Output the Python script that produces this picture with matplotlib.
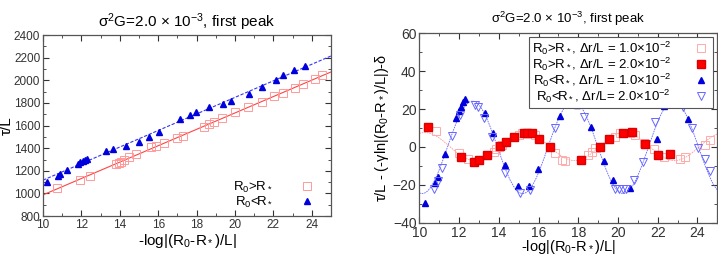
import matplotlib.pyplot as plt
import numpy as np
from matplotlib.ticker import MultipleLocator

plt.rcParams['font.family'] = ['Liberation Sans', 'DejaVu Sans']
plt.rcParams['mathtext.fontset'] = 'custom'
plt.rcParams['mathtext.rm'] = 'Liberation Sans'
plt.rcParams['mathtext.it'] = 'Liberation Sans:italic'
plt.rcParams['mathtext.bf'] = 'Liberation Sans:bold'

# left panel: tau/L vs -log|(R0-R*)/L|
gt_x = [10.75, 11.91, 12.43, 13.80, 13.94, 14.06, 14.20, 14.46, 14.86, 15.60, 15.86, 16.31,
        16.97, 17.28, 18.39, 18.67, 18.91, 19.31, 20.02, 20.70, 21.41, 22.05, 22.48, 23.13,
        23.56, 24.17, 24.55]
gt_y = [1045, 1118, 1156, 1257, 1266, 1280, 1295, 1319, 1345, 1410, 1422, 1442,
        1489, 1507, 1590, 1613, 1628, 1669, 1722, 1766, 1811, 1858, 1887, 1934,
        1967, 2011, 2049]
lt_x = [10.21, 10.76, 10.90, 11.25, 11.80, 11.94, 12.06, 12.17, 12.29, 13.29, 13.64, 14.32,
        14.98, 15.53, 16.05, 17.14, 17.63, 17.97, 18.67, 19.36, 19.80, 20.75, 21.43, 22.12,
        22.52, 23.07, 23.65]
lt_y = [1103, 1156, 1168, 1207, 1263, 1277, 1289, 1298, 1307, 1375, 1392, 1422,
        1457, 1501, 1545, 1654, 1693, 1719, 1760, 1793, 1819, 1875, 1940, 2002,
        2043, 2093, 2123]

# right panel: residuals
gt1_x = [10.84, 11.98, 12.45, 13.74, 13.88, 13.99, 14.15, 15.00, 15.17, 15.81, 16.84, 17.18,
         17.31, 18.49, 18.69, 18.86, 19.86, 20.11, 20.61, 20.87, 21.29, 21.79, 22.30, 23.14,
         23.39, 24.39, 24.65]
gt1_y = [8.6, -3.0, -6.5, -2.5, -1.1, -0.2, 1.0, 6.3, 7.5, 6.3, -3.3, -6.8,
         -7.4, -4.2, -2.5, -0.7, 5.4, 7.2, 7.2, 6.3, 2.0, -1.2, -5.1, -6.3,
         -5.1, 1.1, 3.7]
gt2_x = [10.42, 12.10, 12.73, 13.02, 13.41, 14.08, 14.36, 14.75, 15.25, 15.42, 15.67, 16.00,
         16.59, 18.14, 19.08, 19.53, 20.25, 20.71, 21.37, 22.04, 22.63]
gt2_y = [10.7, -5.1, -7.7, -6.8, -4.2, 0.5, 2.8, 5.4, 7.2, 7.2, 7.2, 4.1,
         -0.2, -6.8, -0.2, 4.1, 7.5, 7.9, 1.4, -4.4, -3.7]
lt1_x = [10.30, 10.81, 10.94, 11.31, 11.85, 11.98, 12.10, 12.20, 12.31, 13.29, 13.69, 14.29,
         14.95, 15.50, 15.97, 17.06, 17.55, 17.94, 18.62, 19.28, 19.73, 20.62, 21.96, 22.30,
         22.94, 23.51]
lt1_y = [-29.3, -19.1, -15.9, -3.7, 15.3, 18.8, 21.2, 23.8, 25.1, 17.7, 7.2, -9.6,
         -20.4, -20.4, -11.8, 16.3, 23.0, 22.3, 10.7, -7.5, -17.4, -21.8, 4.1, 21.7,
         23.7, 14.9]
lt2_x = [10.75, 10.92, 11.14, 11.64, 12.06, 12.78, 12.95, 13.24, 13.66, 14.33, 15.05, 15.59,
         16.84, 18.27, 19.86, 20.03, 20.23, 20.42, 20.79, 21.26, 21.84, 22.60, 23.25, 23.75,
         24.02, 24.36, 24.62]
lt2_y = [-21.9, -17.7, -11.2, 5.8, 16.7, 22.3, 20.9, 15.1, 5.4, -13.8, -24.4, -22.6,
         9.8, 16.0, -22.1, -22.3, -22.3, -22.3, -17.4, -7.7, 13.0, 25.6, 20.8, 9.8,
         -0.6, -6.5, -12.8]


def sine_fit(x, y, periods):
    best = None
    for p in periods:
        k = 2 * np.pi / p
        A = np.column_stack([np.cos(k * x), np.sin(k * x), np.ones_like(x)])
        coef = np.linalg.lstsq(A, y, rcond=None)[0]
        r = np.sum((A @ coef - y) ** 2)
        if best is None or r < best[0]:
            best = (r, k, coef)
    _, k, c = best
    return lambda t: c[0] * np.cos(k * t) + c[1] * np.sin(k * t) + c[2]


def style(ax):
    ax.tick_params(which='both', direction='in', top=True, right=True, colors='#333333')
    ax.tick_params(which='major', length=4)
    ax.tick_params(which='minor', length=2)
    for s in ax.spines.values():
        s.set_color('#555555')
        s.set_linewidth(0.9)


fig = plt.figure(figsize=(7.18, 2.56), dpi=100)

# ---- left
ax = fig.add_axes([0.060, 0.156, 0.401, 0.707])
xs = np.linspace(10, 25, 50)
p1 = np.polyfit(gt_x, gt_y, 1)
p2 = np.polyfit(lt_x, lt_y, 1)
ax.plot(xs, np.polyval(p1, xs), color='#ff4444', lw=0.8)
ax.plot(xs, np.polyval(p2, xs), color='#3333ff', lw=0.8, ls=(0, (3, 1.5)))
ax.plot(gt_x, gt_y, 's', ms=6, mfc='none', mec='#ff9999', mew=0.7, label=r'R$_0$>R$_*$')
ax.plot(lt_x, lt_y, '^', ms=5, color='#0000dd', label=r'R$_0$<R$_*$')
ax.set_xlim(10, 25)
ax.set_ylim(800, 2400)
ax.xaxis.set_major_locator(MultipleLocator(2))
ax.xaxis.set_minor_locator(MultipleLocator(1))
ax.yaxis.set_major_locator(MultipleLocator(200))
ax.yaxis.set_minor_locator(MultipleLocator(100))
ax.tick_params(labelsize=8.5, pad=2)
style(ax)
ax.set_xlabel(r'-log|(R$_0$-R$_*$)/L|', fontsize=11, labelpad=1)
ax.set_ylabel('τ/L', fontsize=11, labelpad=0)
ax.set_title('σ$^2$G=2.0 × 10$^{-3}$, first peak', fontsize=11, pad=6)
h, l = ax.get_legend_handles_labels()
ax.legend(h, l, loc='lower right', frameon=False, markerfirst=False, fontsize=9.5,
          handlelength=1.5, handletextpad=1.8, labelspacing=0.0, borderaxespad=0.05,
          bbox_to_anchor=(0.97, 0.0))

# ---- right
ax2 = fig.add_axes([0.584, 0.129, 0.415, 0.742])
xs = np.linspace(10, 25, 400)
per = np.linspace(4.5, 6.0, 151)
fr = sine_fit(np.array(gt1_x + gt2_x), np.array(gt1_y + gt2_y), per)
fb = sine_fit(np.array(lt1_x + lt2_x), np.array(lt1_y + lt2_y), per)
ax2.plot(xs, fr(xs), color='#ff9999', lw=0.6, ls=(0, (2, 1)))
ax2.plot(xs, fb(xs), color='#6666ff', lw=0.6, ls=(0, (2, 1)))
ax2.plot(gt1_x, gt1_y, 's', ms=6, mfc='none', mec='#ffaaaa', mew=0.7,
         label=r'R$_0$>R$_*$, Δr/L = 1.0×10$^{-2}$')
ax2.plot(gt2_x, gt2_y, 's', ms=6, color='#ff0000', mec='#dd0000',
         label=r'R$_0$>R$_*$, Δr/L = 2.0×10$^{-2}$')
ax2.plot(lt1_x, lt1_y, '^', ms=5, color='#0000dd',
         label=r'R$_0$<R$_*$, Δr/L = 1.0×10$^{-2}$')
ax2.plot(lt2_x, lt2_y, 'v', ms=5.5, mfc='none', mec='#6666ff', mew=0.7,
         label=r'R$_0$<R$_*$, Δr/L= 2.0×10$^{-2}$')
ax2.set_xlim(10, 25)
ax2.set_ylim(-40, 60)
ax2.xaxis.set_major_locator(MultipleLocator(2))
ax2.xaxis.set_minor_locator(MultipleLocator(1))
ax2.yaxis.set_major_locator(MultipleLocator(20))
ax2.yaxis.set_minor_locator(MultipleLocator(10))
ax2.tick_params(labelsize=10, pad=2)
style(ax2)
ax2.set_xlabel(r'-log|(R$_0$-R$_*$)/L|', fontsize=10.5, labelpad=-1)
ax2.set_ylabel(r'τ/L - (-γln|(R$_0$-R$_*$)/L|)-δ', fontsize=10.5, labelpad=1)
ax2.set_title('σ$^2$G=2.0 × 10$^{-3}$, first peak', fontsize=9.5, pad=7)
leg = ax2.legend(loc='upper right', markerfirst=False, fontsize=9.5, fancybox=False,
                 handlelength=1.5, handletextpad=1.5, labelspacing=-0.1,
                 borderpad=0.2, borderaxespad=0.3, framealpha=1)
leg.get_frame().set_edgecolor('#555555')
leg.get_frame().set_linewidth(0.8)

fig.savefig('out.png', dpi=100)
